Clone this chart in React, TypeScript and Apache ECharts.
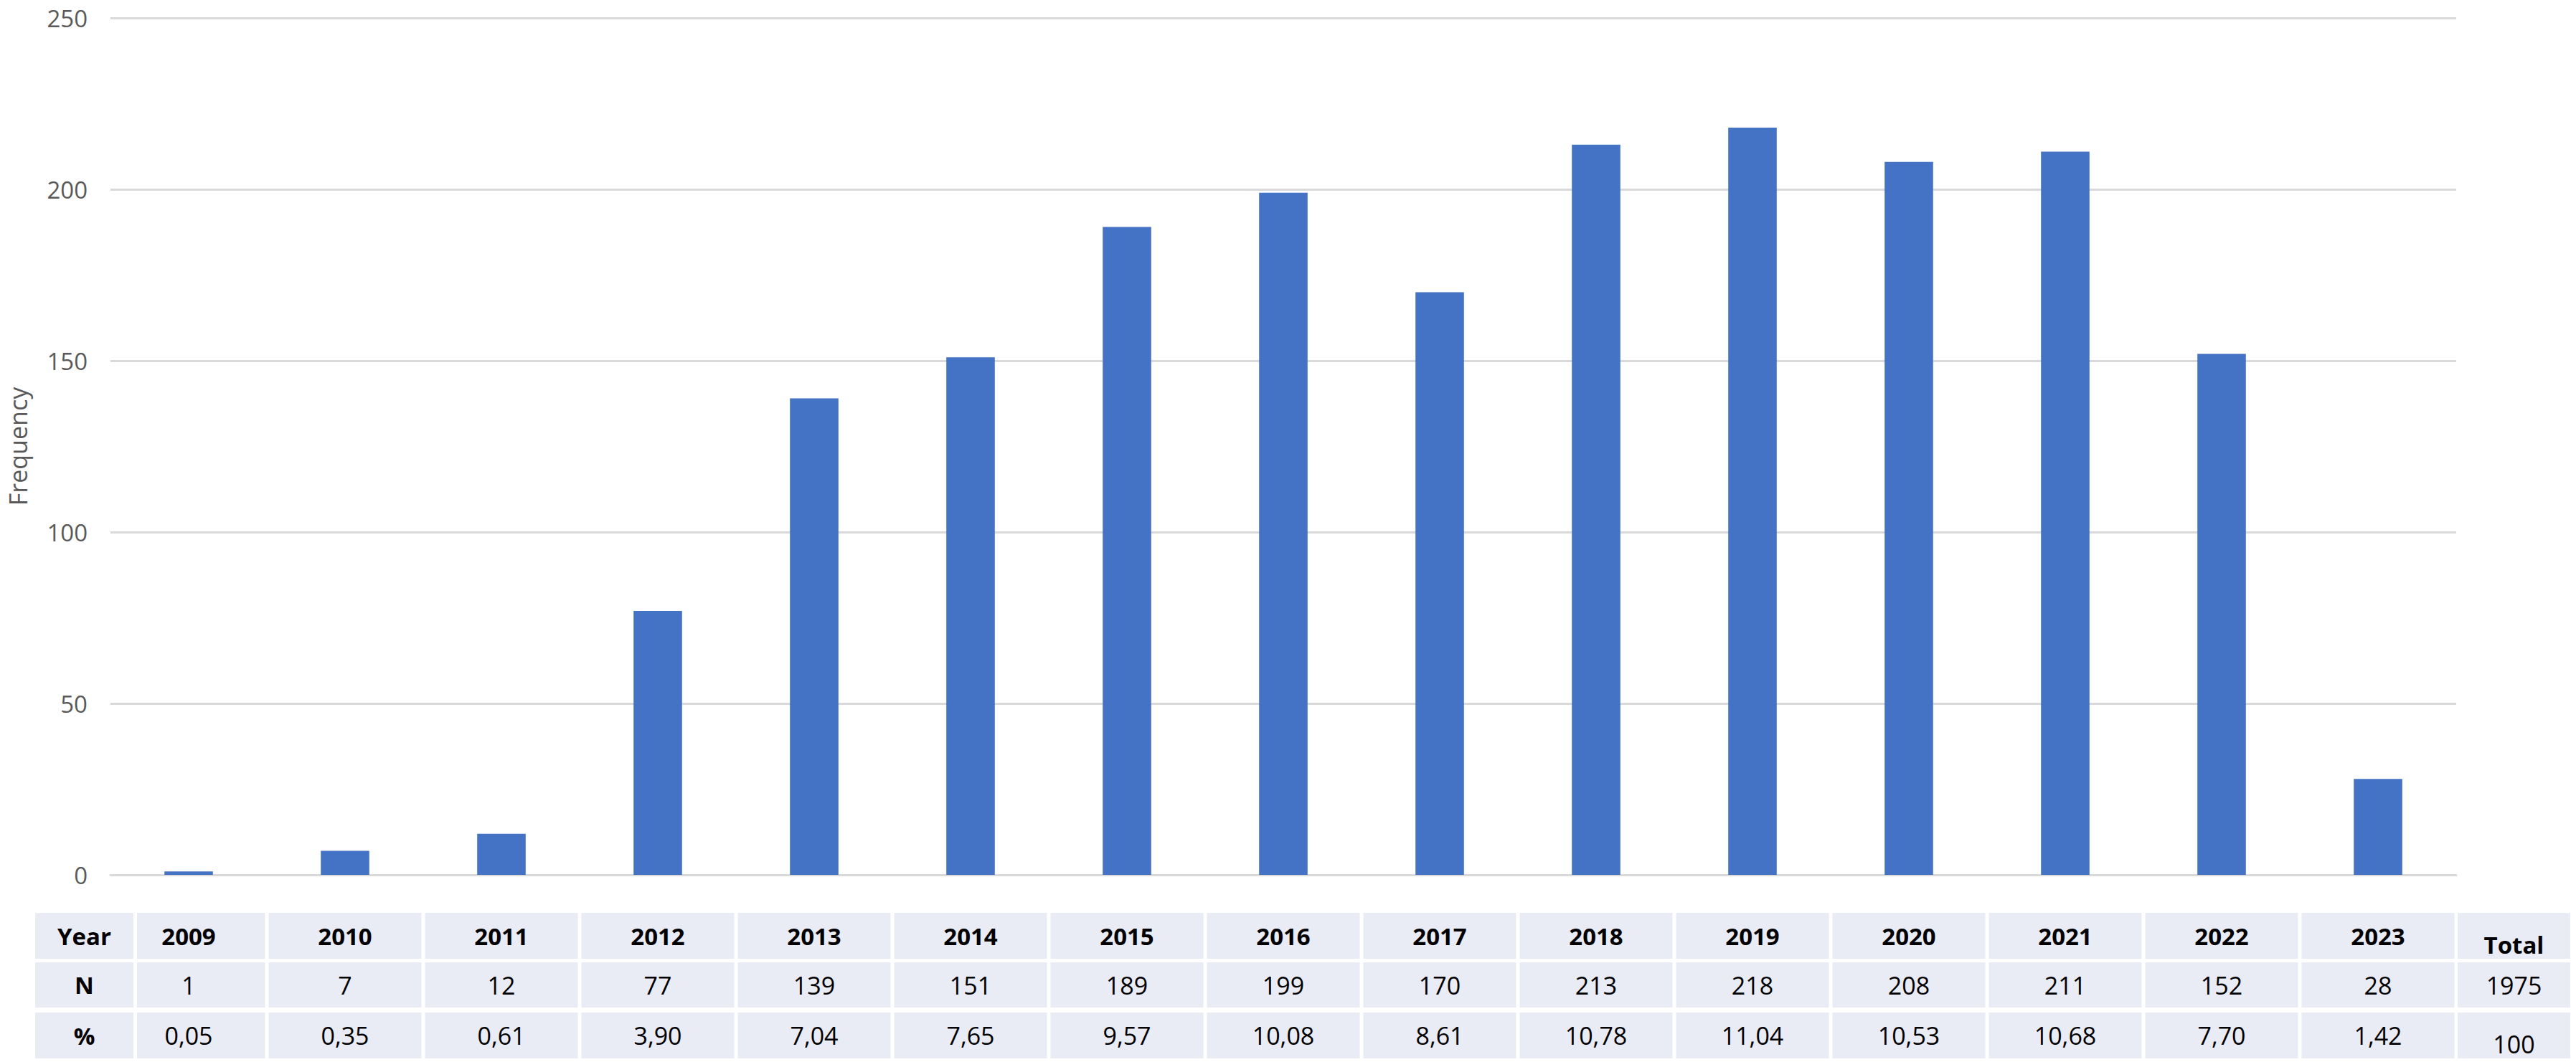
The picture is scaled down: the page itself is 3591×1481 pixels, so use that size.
import React, { useEffect, useRef } from "react";
import * as echarts from "echarts";

const years = ["2009", "2010", "2011", "2012", "2013", "2014", "2015", "2016", "2017", "2018", "2019", "2020", "2021", "2022", "2023"];
const counts = [1, 7, 12, 77, 139, 151, 189, 199, 170, 213, 218, 208, 211, 152, 28];
const percents = ["0,05", "0,35", "0,61", "3,90", "7,04", "7,65", "9,57", "10,08", "8,61", "10,78", "11,04", "10,53", "10,68", "7,70", "1,42"];
const rowLabels = ["Year", "N", "%"];
const totalLabel = "Total";
const totalN = "1975";
const totalPct = "100";
const yMin = 0;
const yMax = 250;
const yInterval = 50;
const yName = "Frequency";

const W = 3591;
const H = 1481;
const FONT = "'Open Sans', 'Noto Sans', sans-serif";

export default function App() {
  const ref = useRef<HTMLDivElement>(null);
  useEffect(() => {
    const chart = echarts.init(ref.current!, null, { renderer: "svg" });
    chart.setOption({
      animation: false,
      textStyle: { fontFamily: FONT },
      grid: { left: 152, right: W - 3424, top: 25, bottom: H - 1220, containLabel: false },
      xAxis: {
        type: "category",
        data: years,
        axisLine: { show: true, lineStyle: { color: "#D9D9D9", width: 3 } },
        axisTick: { show: false },
        axisLabel: { show: false },
      },
      yAxis: {
        type: "value",
        min: yMin,
        max: yMax,
        interval: yInterval,
        name: yName,
        nameLocation: "middle",
        nameRotate: 90,
        nameGap: 112,
        nameTextStyle: { fontSize: 34, color: "#595959", fontFamily: FONT },
        axisLine: { show: false },
        axisTick: { show: false },
        axisLabel: { fontSize: 33, lineHeight: 30, color: "#595959", margin: 32, fontFamily: FONT },
        splitLine: { lineStyle: { color: "#D9D9D9", width: 3 } },
      },
      series: [
        {
          type: "bar",
          data: counts,
          barWidth: "31%",
          itemStyle: { color: "#4472C4" },
        },
      ],
    });

    const centers = years.map((y) => chart.convertToPixel({ xAxisIndex: 0 }, y) as number);
    const step = centers[1] - centers[0];
    const rowTops = [1273, 1342, 1412];
    const rowHeights = [64, 63, 64];
    const bg = "#E9EBF5";
    const elements: any[] = [];
    const addCell = (x0: number, x1: number, r: number) => {
      elements.push({
        type: "rect",
        shape: { x: x0, y: rowTops[r], width: x1 - x0, height: rowHeights[r] },
        style: { fill: bg },
        z: 1,
      });
    };
    const addText = (text: string, cx: number, r: number, bold: boolean, dy = 0) => {
      elements.push({
        type: "text",
        x: cx,
        y: rowTops[r] + rowHeights[r] / 2 + dy,
        style: {
          text,
          align: "center",
          verticalAlign: "middle",
          fontSize: bold ? 33 : 34,
          fontWeight: bold ? "bold" : "normal",
          fontFamily: FONT,
          fill: "#000000",
        },
        z: 2,
      });
    };
    const rowValues = [years, counts.map(String), percents];
    for (let r = 0; r < 3; r++) {
      addCell(49, 186, r);
      addText(rowLabels[r], (49 + 186) / 2, r, true);
    }
    let lastRight = 0;
    centers.forEach((c, i) => {
      const x0 = i === 0 ? 191 : c - step / 2 + 2.5;
      const x1 = c + step / 2 - 2.5;
      lastRight = x1;
      for (let r = 0; r < 3; r++) {
        addCell(x0, x1, r);
        addText(rowValues[r][i], c, r, r === 0);
      }
    });
    const tx0 = lastRight + 4.5;
    const tx1 = 3583;
    const tc = (tx0 + tx1) / 2;
    const totals = [totalLabel, totalN, totalPct];
    for (let r = 0; r < 3; r++) {
      addCell(tx0, tx1, r);
      addText(totals[r], tc, r, r === 0, r === 1 ? 0 : 12);
    }
    chart.setOption({ graphic: { elements } });
    return () => chart.dispose();
  }, []);
  return (
    <div
      ref={ref}
      style={{ position: "fixed", left: 0, top: 0, width: W, height: H, background: "#ffffff" }}
    />
  );
}
